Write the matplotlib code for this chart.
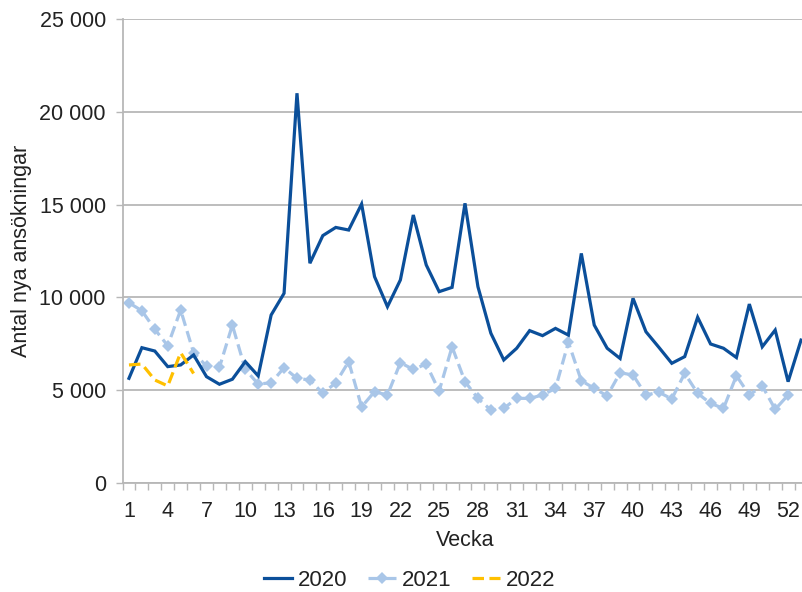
import matplotlib
matplotlib.use("Agg")
import matplotlib.pyplot as plt
from matplotlib.ticker import FixedLocator, FuncFormatter

plt.rcParams['font.family'] = ['Liberation Sans', 'DejaVu Sans']

weeks_2020 = list(range(1, 54))
values_2020 = [5640, 7290, 7110, 6270, 6360, 6900, 5730, 5320, 5590, 6540,
               5770, 9050, 10220, 21000, 11840, 13330, 13770, 13630, 15030, 11120,
               9500, 10940, 14440, 11750, 10310, 10540, 15070, 10580, 8070, 6630,
               7260, 8210, 7940, 8330, 7970, 12370, 8510, 7260, 6710, 9950,
               8150, 7310, 6450, 6810, 8930, 7490, 7260, 6760, 9640, 7340,
               8240, 5460, 7700]

weeks_2021 = list(range(1, 53))
values_2021 = [9710, 9280, 8280, 7400, 9320, 7020, 6300, 6230, 8510, 6120,
               5330, 5400, 6210, 5640, 5550, 4830, 5400, 6540, 4100, 4920,
               4740, 6480, 6120, 6410, 4960, 7340, 5460, 4560, 3930, 4020,
               4560, 4560, 4740, 5100, 7580, 5510, 5100, 4690, 5940, 5820,
               4740, 4890, 4530, 5910, 4830, 4290, 4020, 5780, 4740, 5230,
               3970, 4740]

weeks_2022 = list(range(1, 7))
values_2022 = [6360, 6410, 5550, 5230, 7020, 5900]

series_labels = ["2020", "2021", "2022"]
y_ticks = [0, 5000, 10000, 15000, 20000, 25000]
x_tick_weeks = list(range(1, 53, 3))

c2020 = "#0B4F9A"
c2021 = "#A9C6E8"
c2022 = "#FFC000"
grid_c = "#B7B7B7"
txt_c = "#222222"
fs = 15.5

W, H = 802, 592
fig = plt.figure(figsize=(W / 100, H / 100), dpi=100)
left, right, top, bottom = 122.5, 807.5, 19, 483
ax = fig.add_axes([left / W, (H - bottom) / H, (right - left) / W, (bottom - top) / H])

ax.plot(weeks_2020, values_2020, color=c2020, lw=2.3, solid_joinstyle='miter',
        label=series_labels[0], zorder=3)
ax.plot(weeks_2021, values_2021, color=c2021, lw=2.3, dashes=(3.6, 1.7),
        marker='D', markersize=6, markeredgewidth=0, label=series_labels[1], zorder=2)
ax.plot(weeks_2022, values_2022, color=c2022, lw=2.3, dashes=(3.6, 1.7),
        label=series_labels[2], zorder=4)

ax.set_xlim(0.5, 53.5)
ax.set_ylim(0, 25000)

ax.yaxis.set_major_locator(FixedLocator(y_ticks))
ax.yaxis.set_major_formatter(FuncFormatter(lambda v, p: f"{int(v):,}".replace(",", " ")))
ax.grid(axis='y', color=grid_c, lw=1.3, zorder=0)
ax.set_axisbelow(True)

ax.xaxis.set_major_locator(FixedLocator(x_tick_weeks))
ax.xaxis.set_minor_locator(FixedLocator([w + 0.5 for w in range(0, 54)]))
ax.tick_params(axis='x', which='major', length=0, pad=13, labelsize=fs, colors=txt_c)
ax.tick_params(axis='x', which='minor', length=5, width=1, color=grid_c)
ax.tick_params(axis='y', which='major', length=5, width=1, color=grid_c, pad=7,
               labelsize=fs, labelcolor=txt_c)

for s in ['top', 'right']:
    ax.spines[s].set_visible(False)
for s in ['left', 'bottom']:
    ax.spines[s].set_color(grid_c)
    ax.spines[s].set_linewidth(1.3)

ax.set_xlabel("Vecka", fontsize=fs, color=txt_c, labelpad=6)
ax.set_ylabel("Antal nya ansökningar", fontsize=fs, color=txt_c, labelpad=5)

fig.legend(loc='center', bbox_to_anchor=(0.511, 1 - 580 / H), ncol=3, frameon=False,
           fontsize=16, handlelength=1.25, columnspacing=0.9, handletextpad=0.3,
           labelcolor=txt_c)

fig.savefig("out.png", dpi=100)
